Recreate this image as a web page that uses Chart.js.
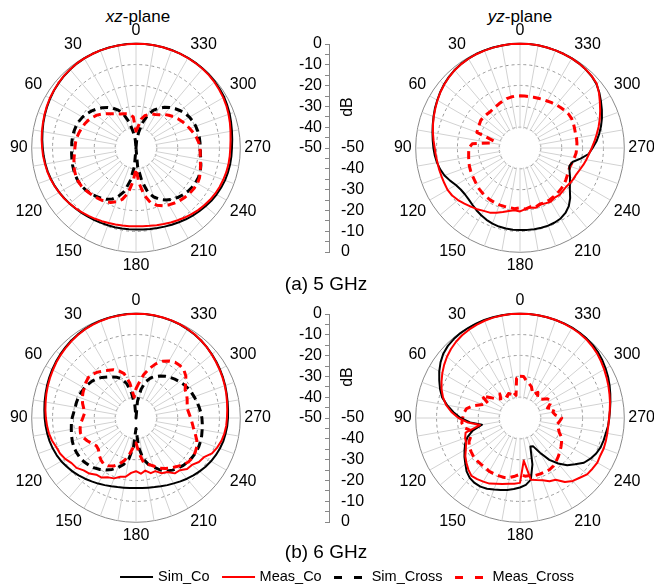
<!DOCTYPE html>
<html>
<head>
<meta charset="utf-8">
<script src="https://cdn.jsdelivr.net/npm/chart.js@4.4.1/dist/chart.umd.min.js"></script>
<style>
  html, body { margin: 0; padding: 0; background: #fff; overflow: hidden; }
  body { width: 654px; height: 588px; position: relative;
         font-family: 'Liberation Sans', Arial, sans-serif; color: #000; }
  .box { position: absolute; }
  .ttl { position: absolute; width: 200px; text-align: center; font-size: 17px; line-height: 20px; }
  .cap { position: absolute; width: 200px; left: 226px; text-align: center; font-size: 19px; line-height: 22px; }
  .db  { position: absolute; width: 30px; text-align: center; font-size: 16px; line-height: 18px;
         transform: rotate(-90deg); }
  .legend { position: absolute; left: 347px; top: 567px; transform: translateX(-50%);
            white-space: nowrap; font-size: 14.5px; line-height: 18px; }
  .legend .item { display: inline-block; margin: 0 6px; }
  .legend .key { display: inline-block; width: 33px; vertical-align: middle; margin-right: 5px; }
</style>
</head>
<body>
<div class="ttl" style="left:38px; top:7px;"><i>xz</i>-plane</div>
<div class="ttl" style="left:420px; top:7px;"><i>yz</i>-plane</div>

<div class="box" style="left:6px; top:13px;"><canvas id="xz5" width="270" height="270"></canvas></div>
<div class="box" style="left:390px; top:13px;"><canvas id="yz5" width="270" height="270"></canvas></div>
<div class="box" style="left:6px; top:283px;"><canvas id="xz6" width="270" height="270"></canvas></div>
<div class="box" style="left:390px; top:283px;"><canvas id="yz6" width="270" height="270"></canvas></div>

<div class="box" style="left:289px; top:31px;"><canvas id="axis5" width="81" height="234"></canvas></div>
<div class="box" style="left:289px; top:301px;"><canvas id="axis6" width="81" height="234"></canvas></div>
<div class="db" style="left:332px; top:98px;">dB</div>
<div class="db" style="left:332px; top:368px;">dB</div>

<div class="cap" style="top:273px;">(a) 5 GHz</div>
<div class="cap" style="top:541px;">(b) 6 GHz</div>

<div class="legend" id="legend"></div>

<script>
// angles in degrees, counter-clockwise from the top (0 at top, 90 on the left)
const angles = [0, 5, 10, 15, 20, 25, 30, 35, 40, 45, 50, 55,
  60, 65, 70, 75, 80, 85, 90, 95, 100, 105, 110, 115,
  120, 125, 130, 135, 140, 145, 150, 155, 160, 165, 170, 175,
  180, 185, 190, 195, 200, 205, 210, 215, 220, 225, 230, 235,
  240, 245, 250, 255, 260, 265, 270, 275, 280, 285, 290, 295,
  300, 305, 310, 315, 320, 325, 330, 335, 340, 345, 350, 355];

// (a) 5 GHz, xz-plane, dB
const simCoXz5 = [0, 0, -0.1, -0.1, -0.2, -0.3, -0.4, -0.6, -0.9, -1.2, -1.6, -2.0,
  -2.5, -3.0, -3.5, -4.0, -4.5, -4.9, -5.3, -5.6, -5.9, -6.2, -6.6, -7.0,
  -7.5, -8.0, -8.5, -9.0, -9.4, -9.8, -10.1, -10.4, -10.6, -10.7, -10.8, -10.9,
  -10.9, -10.8, -10.6, -10.3, -9.9, -9.4, -8.9, -8.3, -7.7, -7.1, -6.5, -5.9,
  -5.4, -5.0, -4.6, -4.4, -4.2, -4.1, -4.0, -3.7, -3.3, -2.8, -2.2, -1.7,
  -1.2, -0.9, -0.6, -0.4, -0.3, -0.2, -0.1, -0.1, 0, 0, 0, 0];
const measCoXz5 = [0, -0.1, -0.1, -0.2, -0.2, -0.3, -0.4, -0.5, -0.8, -1.1, -1.5, -1.9,
  -2.3, -2.8, -3.3, -3.8, -4.2, -4.6, -5.0, -5.3, -5.7, -6.0, -6.4, -6.9,
  -7.4, -7.9, -8.5, -9.1, -9.7, -10.3, -10.8, -11.3, -11.7, -12.0, -12.3, -12.4,
  -12.5, -12.4, -12.1, -11.7, -11.2, -10.6, -10.0, -9.3, -8.6, -7.9, -7.3, -6.7,
  -6.2, -5.8, -5.5, -5.2, -5.0, -4.9, -4.8, -4.5, -4.0, -3.4, -2.8, -2.2,
  -1.7, -1.3, -0.9, -0.6, -0.4, -0.3, -0.2, -0.1, -0.1, 0, 0, 0];
const simCrossXz5 = [-50, -46, -42, -37, -33, -30, -28, -26.3, -24.8, -23.5, -22.3, -21.3,
  -20.4, -19.8, -19.4, -19.2, -19.1, -19.1, -19.2, -19.0, -18.8, -18.5, -18.3, -18.1,
  -18.0, -18.2, -18.6, -19.2, -19.9, -20.7, -21.6, -23.0, -25.3, -28.5, -34, -41,
  -50, -41, -34, -28, -25, -22.8, -21.2, -20, -19, -18.2, -17.6, -17.2,
  -17.0, -16.9, -17.2, -17.8, -18.5, -19.0, -19.2, -19.2, -19.2, -19.3, -19.5, -19.9,
  -20.4, -21.2, -22.2, -23.4, -24.7, -26.2, -28, -30, -33, -37, -42, -46];
const measCrossXz5 = [-42, -35, -34, -33, -32.5, -32, -31, -30, -28.5, -27, -25.5, -24.5,
  -23.5, -22.8, -22.2, -21.7, -21.2, -20.9, -20.7, -20.4, -19.8, -19.2, -18.6, -18.2,
  -18.0, -18.1, -18.5, -19.0, -19.4, -19.9, -20.3, -21.2, -22.6, -24.5, -28, -34,
  -40, -33, -27, -22.8, -20.8, -19.5, -18.5, -17.8, -17.2, -16.7, -16.3, -16.1,
  -16.0, -16.4, -17.2, -18.0, -18.7, -19.1, -19.3, -19.8, -20.6, -21.6, -22.6, -23.6,
  -24.5, -25.5, -26.6, -27.8, -29, -30.5, -31.5, -32, -33, -34, -36, -40];

// (a) 5 GHz, yz-plane, dB
const simCoYz5 = [0, 0, -0.1, -0.1, -0.2, -0.3, -0.5, -0.8, -1.2, -1.8, -2.5, -3.3,
  -4.2, -5.0, -5.9, -6.7, -7.4, -8.0, -8.5, -9.0, -9.6, -10.4, -11.5, -13.0,
  -14.5, -15.3, -15.5, -15.2, -14.5, -13.6, -12.8, -12.0, -11.4, -11.0, -10.8, -10.7,
  -10.7, -10.6, -10.5, -10.4, -10.4, -10.6, -11.0, -12.0, -13.6, -16.0, -18.8, -20.8,
  -22.3, -23.8, -24.8, -24.0, -20.5, -17.0, -15.2, -13.2, -11.5, -9.8, -8.2, -6.7,
  -5.2, -3.6, -2.2, -1.4, -0.9, -0.6, -0.4, -0.3, -0.2, -0.1, 0, 0];
const measCoYz5 = [0, 0, -0.1, -0.2, -0.3, -0.4, -0.6, -0.9, -1.3, -1.9, -2.6, -3.4,
  -4.3, -5.2, -6.0, -6.8, -7.6, -8.4, -9.1, -9.5, -9.8, -9.9, -10.0, -10.0,
  -9.9, -10.3, -11.2, -12.3, -13.3, -14.2, -15.2, -15.8, -17.0, -18.2, -19.3, -20.0,
  -19.6, -20.6, -21.0, -20.4, -21.2, -20.8, -20.3, -21.0, -20.6, -20.9, -21.1, -20.7,
  -20.4, -20.2, -19.5, -18.6, -17.7, -16.8, -15.6, -14.2, -12.7, -11.0, -9.3, -7.6,
  -5.8, -3.8, -2.0, -1.3, -0.9, -0.6, -0.4, -0.3, -0.2, -0.1, 0, 0];
const simCrossYz5 = [];
const measCrossYz5 = [-25, -25, -25.2, -25.5, -26, -26.5, -27, -27.3, -27.5, -27.3, -27, -27,
  -27.5, -27.8, -28, -37, -36, -27, -25.5, -25.3, -25, -24.6, -24.2, -23.9,
  -23.6, -23.3, -22.8, -22.3, -21.9, -21.6, -21.3, -21.2, -21, -21, -21, -20.8,
  -21.3, -20.6, -21.4, -20.8, -21.5, -21.2, -21.4, -21.7, -21.9, -22.2, -22.6, -23.2,
  -23.8, -24.3, -24.4, -24, -23.5, -23, -22.8, -22.6, -22.5, -22.5, -22.2, -21.8,
  -21.5, -21.6, -22, -22.5, -23, -23.5, -24, -24.3, -24.6, -24.8, -25, -25];

// (b) 6 GHz, xz-plane, dB
const simCoXz6 = [0, 0, -0.1, -0.2, -0.3, -0.5, -0.8, -1.2, -1.6, -2.1, -2.6, -3.1,
  -3.6, -4.1, -4.6, -5.1, -5.5, -5.9, -6.2, -6.5, -6.8, -7.1, -7.5, -8.0,
  -8.6, -9.4, -10.2, -11.1, -12.0, -12.9, -13.7, -14.5, -15.2, -15.7, -16.1, -16.3,
  -16.4, -16.3, -16.1, -15.7, -15.2, -14.5, -13.8, -12.9, -12.0, -11.1, -10.2, -9.3,
  -8.5, -7.8, -7.2, -6.7, -6.4, -6.1, -5.9, -5.7, -5.4, -5.0, -4.5, -4.0,
  -3.5, -3.0, -2.5, -2.0, -1.5, -1.1, -0.8, -0.5, -0.3, -0.2, -0.1, 0];
const measCoXz6 = [0, -0.1, -0.2, -0.3, -0.5, -0.7, -1.0, -1.4, -1.9, -2.4, -2.9, -3.4,
  -4.0, -4.5, -5.0, -5.5, -6.0, -6.4, -6.8, -7.2, -7.6, -8.3, -9.3, -9.8,
  -10.8, -12.3, -12.8, -14.5, -15.2, -16.8, -17.0, -18.6, -19.2, -20.8, -21.4, -23.6,
  -24.5, -23.2, -24.4, -22.6, -22.9, -20.8, -20.1, -17.6, -17.3, -15.4, -15.0, -13.2,
  -12.4, -9.8, -8.6, -7.6, -7.0, -6.6, -6.4, -6.1, -5.7, -5.2, -4.7, -4.2,
  -3.7, -3.2, -2.6, -2.0, -1.5, -1.0, -0.7, -0.4, -0.2, -0.1, 0, 0];
const simCrossXz6 = [-50, -44, -38, -33, -30, -28.5, -27.3, -26, -24.6, -23.4, -22.5, -21.9,
  -21.4, -21.0, -20.7, -20.5, -20.4, -20.0, -19.4, -18.9, -18.5, -18.0, -17.5, -17.1,
  -17.0, -17.1, -17.4, -18.0, -18.8, -19.9, -21.2, -22.8, -24.7, -27, -30, -36,
  -45, -36, -30, -27, -25, -22.5, -20.7, -19.5, -18.6, -17.9, -17.4, -17.1,
  -16.9, -16.9, -17.1, -17.4, -17.8, -18.1, -18.4, -18.8, -19.3, -19.8, -20.3, -20.8,
  -21.3, -22.0, -22.8, -23.7, -24.6, -25.6, -26.7, -28.0, -29.5, -32, -36, -42];
const measCrossXz6 = [-36, -40, -33, -28, -26, -24.5, -23.6, -22.5, -21.3, -20.4, -20.0, -20.6,
  -21.3, -21.9, -22.6, -23.5, -24.6, -25.2, -24.5, -23.5, -22.8, -22.4, -23.0, -24.2,
  -25.6, -26.8, -26.5, -25.0, -23.8, -23.0, -23.5, -24.6, -26.5, -29.0, -32.5, -36,
  -38, -33, -28, -27, -25.5, -23.5, -22.0, -20.8, -19.6, -18.3, -17.2, -16.9,
  -17.2, -17.8, -19.0, -20.6, -22.0, -23.0, -23.8, -24.5, -25.0, -24.6, -23.9, -23.2,
  -22.8, -21.0, -18.8, -17.5, -17.2, -17.4, -18.5, -20.0, -22.4, -25.5, -29, -33];

// (b) 6 GHz, yz-plane, dB
const simCoYz6 = [0, 0, 0, 0, 0, -0.1, -0.2, -0.3, -0.6, -1.1, -2.0, -3.5,
  -5.3, -7.3, -9.2, -11.3, -14.5, -18.0, -21.5, -26.0, -31.5, -26.5, -23.2, -21.0,
  -19.3, -17.5, -15.8, -13.8, -12.5, -12.0, -12.0, -12.6, -13.5, -14.3, -15.0, -15.8,
  -16.7, -17.8, -20.0, -27.0, -35.5, -35.0, -30.8, -25.5, -21.5, -18.0, -15.5, -12.6,
  -11.0, -9.7, -8.9, -8.5, -8.2, -7.6, -7.2, -6.7, -6.0, -5.2, -4.3, -3.4,
  -2.6, -1.8, -1.1, -0.6, -0.3, -0.1, 0, 0, 0, 0, 0, 0];
const measCoYz6 = [0, 0, -0.1, -0.2, -0.4, -0.7, -1.1, -1.6, -2.3, -3.2, -4.3, -5.6,
  -7.0, -8.5, -10.0, -11.8, -14.0, -17.0, -20.5, -25.0, -30.5, -23.0, -22.0, -21.5,
  -20.0, -18.0, -16.5, -15.0, -13.8, -14.2, -14.8, -15.3, -16.5, -17.2, -18.0, -18.4,
  -18.9, -29.5, -20.0, -19.2, -18.3, -16.5, -15.8, -12.5, -10.6, -9.5, -8.0, -7.6,
  -7.2, -7.5, -7.3, -7.4, -7.5, -7.5, -7.3, -6.8, -6.2, -5.6, -4.9, -4.2,
  -3.4, -2.6, -1.8, -1.2, -0.7, -0.4, -0.2, -0.1, 0, 0, 0, 0];
const simCrossYz6 = [];
const measCrossYz6 = [-30, -31, -39, -37, -38, -37, -38, -36, -35, -37, -36, -33,
  -29, -33, -31, -27, -24, -23, -22.5, -22, -23, -26, -25, -23,
  -22, -21.5, -21, -21, -21, -21, -20.5, -20.5, -20.5, -20.5, -21, -22,
  -23, -22, -22, -21.5, -21.5, -21.5, -21.5, -22, -23, -24, -25, -26,
  -27, -28, -30, -31, -32, -31, -30, -33, -34, -33, -36, -34,
  -33, -34, -36, -37, -37, -35, -37, -36, -34, -33, -32, -30];

const seriesNames = ['Sim_Co', 'Meas_Co', 'Sim_Cross', 'Meas_Cross'];
const dbTop = [0, -10, -20, -30, -40, -50];

Chart.defaults.font.family = "'Liberation Sans', Arial, sans-serif";
Chart.defaults.color = '#000';

const lineStyle = {
  'Sim_Co':     { borderColor: '#000000', borderWidth: 2, borderDash: [] },
  'Meas_Co':    { borderColor: '#ff0000', borderWidth: 2, borderDash: [] },
  'Sim_Cross':  { borderColor: '#000000', borderWidth: 3, borderDash: [8, 5] },
  'Meas_Cross': { borderColor: '#ff0000', borderWidth: 3, borderDash: [8, 5] }
};

// radar runs clockwise, the plot runs counter-clockwise: reorder the angles
const order = angles.map((a, i) => (angles.length - i) % angles.length);
const radarLabels = order.map(k => angles[k]);
const toRadar = vals => vals.length ? order.map(k => vals[k]) : [];

// white centre (no angle lines inside the -40 dB ring)
const innerDisc = {
  id: 'innerDisc',
  beforeDatasetsDraw(chart) {
    const r = chart.scales.r;
    const ctx = chart.ctx;
    ctx.save();
    ctx.beginPath();
    ctx.arc(r.xCenter, r.yCenter, r.getDistanceFromCenterForValue(-40) - 1, 0, Math.PI * 2);
    ctx.fillStyle = '#fff';
    ctx.fill();
    ctx.restore();
  }
};

function polarChart(id, simCo, measCo, simCross, measCross) {
  const series = { 'Sim_Co': simCo, 'Meas_Co': measCo, 'Sim_Cross': simCross, 'Meas_Cross': measCross };
  // first dataset is drawn on top
  const drawOrder = ['Meas_Co', 'Sim_Co', 'Meas_Cross', 'Sim_Cross'];
  return new Chart(document.getElementById(id), {
    type: 'radar',
    data: {
      labels: radarLabels,
      datasets: drawOrder.map(name => Object.assign({
        label: name,
        data: toRadar(series[name]),
        fill: false,
        pointRadius: 0,
        tension: 0,
        borderJoinStyle: 'round'
      }, lineStyle[name]))
    },
    options: {
      responsive: false,
      animation: false,
      events: [],
      plugins: { legend: { display: false }, tooltip: { enabled: false } },
      scales: {
        r: {
          min: -50,
          max: 0,
          ticks: { display: false, stepSize: 10 },
          grid: { circular: true, lineWidth: 1, color: c => c.tick.value === 0 ? '#8a8a8a' : '#999999' },
          border: { dash: c => c.tick.value === 0 ? [] : [3, 3] },
          angleLines: { color: '#d2d2d2', lineWidth: c => c.index % 2 === 0 ? 1 : 0 },
          pointLabels: {
            padding: 4,
            color: '#000',
            font: { size: 16 },
            callback: lab => lab % 30 === 0 ? String(lab) : ''
          }
        }
      }
    },
    plugins: [innerDisc]
  });
}

polarChart('xz5', simCoXz5, measCoXz5, simCrossXz5, measCrossXz5);
polarChart('yz5', simCoYz5, measCoYz5, simCrossYz5, measCrossYz5);
polarChart('xz6', simCoXz6, measCoXz6, simCrossXz6, measCrossXz6);
polarChart('yz6', simCoYz6, measCoYz6, simCrossYz6, measCrossYz6);

// middle dB scale: 0 .. -50 down the left side, -50 .. 0 down the right side
function dbAxis(id) {
  const depth = -dbTop[dbTop.length - 1];
  return new Chart(document.getElementById(id), {
    type: 'line',
    data: { labels: [], datasets: [] },
    options: {
      responsive: false,
      animation: false,
      events: [],
      layout: { padding: { top: 13, bottom: 13 } },
      plugins: { legend: { display: false }, tooltip: { enabled: false } },
      scales: {
        x: { display: false },
        y: {
          position: 'left', min: 0, max: 2 * depth, reverse: true,
          afterFit: s => { s.width = 40; },
          ticks: {
            stepSize: 5, padding: 3, autoSkip: false, font: { size: 16 },
            callback: v => (v % 10 === 0 && dbTop.includes(-v)) ? String(-v) : ''
          },
          grid: { drawOnChartArea: false, tickLength: 4, color: '#888' },
          border: { color: '#888' }
        },
        y2: {
          position: 'right', min: 0, max: 2 * depth, reverse: true,
          afterFit: s => { s.width = 40; },
          ticks: {
            stepSize: 10, padding: 3, autoSkip: false, font: { size: 16 },
            callback: v => v >= depth ? String(v - 2 * depth) : ''
          },
          grid: { display: false, drawTicks: true, tickLength: 8 },
          border: { display: false }
        }
      }
    }
  });
}
dbAxis('axis5');
dbAxis('axis6');

// legend row: line key + name for each series
const legend = document.getElementById('legend');
seriesNames.forEach(name => {
  const st = lineStyle[name];
  const item = document.createElement('span');
  item.className = 'item';
  const key = document.createElement('span');
  key.className = 'key';
  if (st.borderDash.length) {
    key.style.height = st.borderWidth + 'px';
    key.style.background = `linear-gradient(to right, ${st.borderColor} 0 8px, transparent 8px 20px, ${st.borderColor} 20px 28px, transparent 28px)`;
  } else {
    key.style.height = st.borderWidth + 'px';
    key.style.background = st.borderColor;
  }
  item.appendChild(key);
  item.appendChild(document.createTextNode(name));
  legend.appendChild(item);
});
</script>
</body>
</html>
